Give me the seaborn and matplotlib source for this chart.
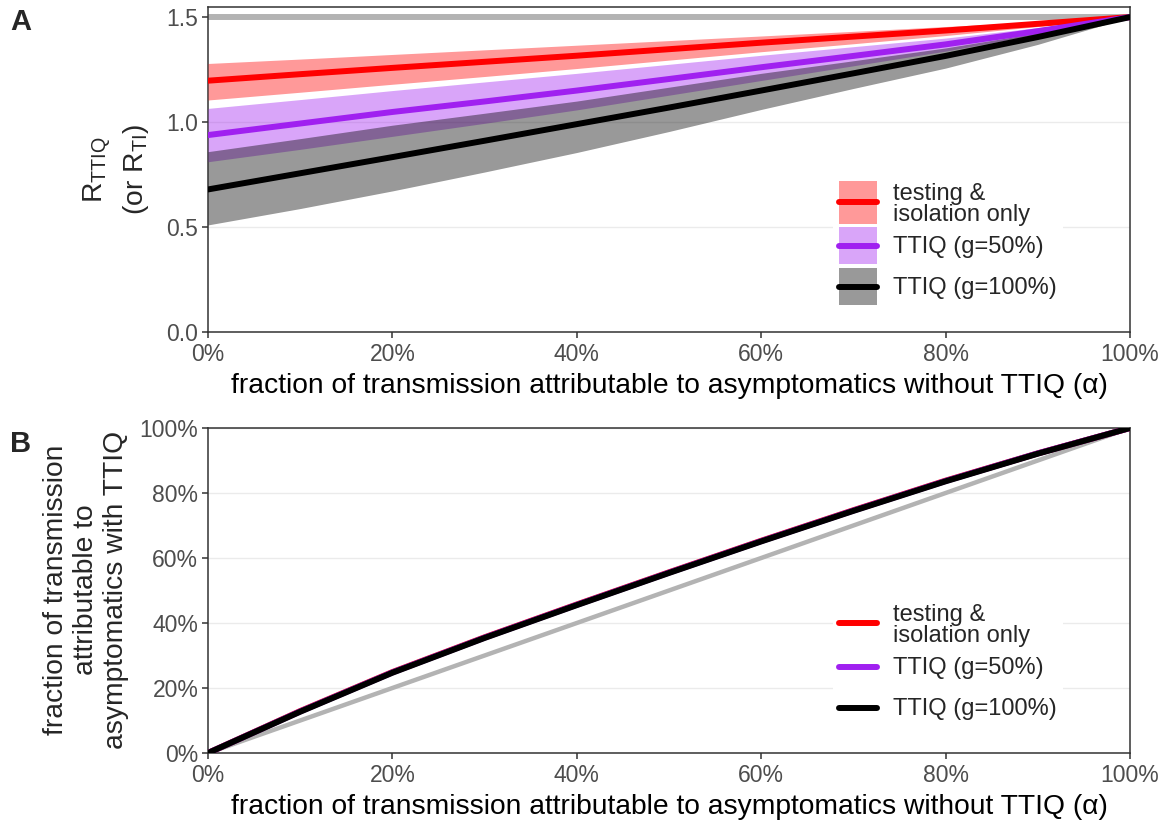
import numpy as np
import pandas as pd
import matplotlib
matplotlib.use("Agg")
import matplotlib.pyplot as plt
import seaborn as sns
from matplotlib.patches import Patch, Rectangle
from matplotlib.lines import Line2D
from matplotlib.legend_handler import HandlerPatch, HandlerLine2D
from matplotlib.transforms import ScaledTranslation
from matplotlib.ticker import PercentFormatter, FixedLocator

# ---------------- data ----------------
alpha_a = [0.0, 0.1, 0.2, 0.3, 0.4, 0.5, 0.6, 0.7, 0.8, 0.9, 1.0]
# panel A: R under each strategy, with uncertainty bands
r_ti_mid = [1.197, 1.228, 1.258, 1.287, 1.316, 1.347, 1.378, 1.407, 1.436, 1.468, 1.5]
r_ti_lo = [1.105, 1.142, 1.180, 1.217, 1.255, 1.295, 1.335, 1.373, 1.412, 1.455, 1.5]
r_ti_hi = [1.279, 1.300, 1.322, 1.344, 1.366, 1.388, 1.410, 1.432, 1.455, 1.477, 1.5]
r_g50_mid = [0.938, 0.993, 1.048, 1.098, 1.150, 1.205, 1.261, 1.315, 1.370, 1.433, 1.5]
r_g50_lo = [0.811, 0.870, 0.932, 0.994, 1.058, 1.128, 1.198, 1.268, 1.338, 1.418, 1.5]
r_g50_hi = [1.065, 1.107, 1.150, 1.191, 1.232, 1.275, 1.318, 1.359, 1.400, 1.450, 1.5]
r_g100_mid = [0.679, 0.756, 0.833, 0.911, 0.990, 1.069, 1.150, 1.232, 1.315, 1.405, 1.5]
r_g100_lo = [0.510, 0.588, 0.672, 0.762, 0.855, 0.955, 1.060, 1.160, 1.257, 1.370, 1.5]
r_g100_hi = [0.859, 0.921, 0.985, 1.042, 1.100, 1.166, 1.232, 1.292, 1.353, 1.425, 1.5]
r_baseline = [1.5] * 11

# panel B: fraction attributable to asymptomatics with TTIQ
alpha_b = [0.0, 0.1, 0.2, 0.3, 0.4, 0.5, 0.6, 0.7, 0.8, 0.9, 1.0]
frac_ti = [0.0, 0.129, 0.249, 0.356, 0.457, 0.556, 0.653, 0.747, 0.838, 0.922, 1.0]
frac_g50 = [0.0, 0.128, 0.248, 0.355, 0.456, 0.555, 0.652, 0.746, 0.837, 0.922, 1.0]
frac_g100 = [0.0, 0.127, 0.247, 0.354, 0.455, 0.554, 0.651, 0.745, 0.836, 0.921, 1.0]
frac_base = [0.0, 0.1, 0.2, 0.3, 0.4, 0.5, 0.6, 0.7, 0.8, 0.9, 1.0]

labels = ["testing &\nisolation only", "TTIQ (g=50%)", "TTIQ (g=100%)"]
x_ticks = [0.0, 0.2, 0.4, 0.6, 0.8, 1.0]
ya_ticks = [0.0, 0.5, 1.0, 1.5]
ya_ticklabels = ["0.0", "0.5", "1.0", "1.5"]
yb_ticks = [0.0, 0.2, 0.4, 0.6, 0.8, 1.0]
xlabel = "fraction of transmission attributable to asymptomatics without TTIQ (\u03b1)"

# ---------------- style ----------------
sns.set_theme(style="white")
plt.rcParams["font.family"] = ["Liberation Sans", "DejaVu Sans"]
plt.rcParams["mathtext.fontset"] = "custom"
plt.rcParams["mathtext.rm"] = "Liberation Sans"
plt.rcParams["mathtext.it"] = "Liberation Sans:italic"

RED = "#FF0000"
PURPLE = "#A020F0"
BLACK = "#000000"
GREY = "#B3B3B3"
colors = [RED, PURPLE, BLACK]
TICK_FS = 16.5
TITLE_FS = 20.3
LEG_FS = 17
LW = 4.3

W, H = 1167, 826
fig = plt.figure(figsize=(W / 100, H / 100), dpi=100)
ax_a = fig.add_axes([208 / W, 1 - 332 / H, 922 / W, 325 / H])
ax_b = fig.add_axes([208 / W, 1 - 753 / H, 922 / W, 325 / H])

def style_axes(ax):
    for s in ax.spines.values():
        s.set_color("#333333")
        s.set_linewidth(1.1)
        s.set_visible(True)
    ax.tick_params(axis="both", which="major", direction="out", length=4, width=1.1,
                   color="#333333", labelcolor="#4D4D4D", labelsize=TICK_FS,
                   left=True, bottom=True, pad=3)
    ax.tick_params(axis="x", pad=4)
    ax.grid(False)
    ax.yaxis.grid(True, color="#EBEBEB", linewidth=1.0)
    ax.set_axisbelow(True)
    ax.set_xlim(0, 1)
    ax.xaxis.set_major_locator(FixedLocator(x_ticks))
    ax.xaxis.set_major_formatter(PercentFormatter(1.0, decimals=0))
    ax.set_xlabel(xlabel, fontsize=TITLE_FS, color="black", labelpad=5)

def tall_patch(legend, orig_handle, xdescent, ydescent, width, height, fontsize):
    extra = 0.08 * height
    return Rectangle((-xdescent, -ydescent - extra), width, height + 2 * extra)

class CenterLine(HandlerLine2D):
    """Legend line drawn through the middle of the key box."""
    def create_artists(self, legend, orig_handle, xdescent, ydescent, width, height,
                       fontsize, trans):
        y = height / 2 - ydescent
        line = Line2D([-xdescent, -xdescent + width], [y, y])
        self.update_prop(line, orig_handle, legend)
        line.set_transform(trans)
        return [line]

LEG_KW = dict(loc="upper left", bbox_transform=fig.transFigure, fontsize=LEG_FS,
              frameon=True, facecolor="white", edgecolor="none", framealpha=1,
              handlelength=1.6, handleheight=2.03, handletextpad=0.7,
              labelspacing=0.18, borderpad=0.25, borderaxespad=0)

def finish_legend(leg):
    leg.get_frame().set_linewidth(0)
    for t in leg.get_texts():
        t.set_linespacing(0.95)
    t0 = leg.get_texts()[0]
    t0.set_transform(t0.get_transform() + ScaledTranslation(0, -3 / 100, fig.dpi_scale_trans))

# ---------------- panel A ----------------
df_a = pd.DataFrame({"alpha": alpha_a, "base": r_baseline})
sns.lineplot(data=df_a, x="alpha", y="base", ax=ax_a, color=GREY, linewidth=4.3, zorder=2)
bands = [(r_ti_lo, r_ti_hi), (r_g50_lo, r_g50_hi), (r_g100_lo, r_g100_hi)]
for (lo, hi), c in zip(bands, colors):
    ax_a.fill_between(alpha_a, lo, hi, color=c, alpha=0.4, linewidth=0, zorder=3)
for mid, c in zip([r_ti_mid, r_g50_mid, r_g100_mid], colors):
    sns.lineplot(x=alpha_a, y=mid, ax=ax_a, color=c, linewidth=LW, zorder=4)
style_axes(ax_a)
ax_a.set_ylim(0, 1.548)
ax_a.yaxis.set_major_locator(FixedLocator(ya_ticks))
ax_a.set_yticklabels(ya_ticklabels)
ax_a.set_ylabel("")

patches = [Patch(facecolor=c, alpha=0.4, edgecolor="none") for c in colors]
handles_a = [(p, Line2D([], [], color=c, linewidth=LW)) for p, c in zip(patches, colors)]
leg_a = ax_a.legend(handles_a, labels, bbox_to_anchor=(833 / W, 1 - 174 / H),
                    handler_map={patches[0]: HandlerPatch(patch_func=tall_patch),
                                 Line2D: CenterLine()}, **LEG_KW)
finish_legend(leg_a)

# ---------------- panel B ----------------
df_b = pd.DataFrame({"alpha": alpha_b, "base": frac_base})
sns.lineplot(data=df_b, x="alpha", y="base", ax=ax_b, color=GREY, linewidth=3.2, zorder=2)
for vals, c in zip([frac_ti, frac_g50, frac_g100], colors):
    sns.lineplot(x=alpha_b, y=vals, ax=ax_b, color=c, linewidth=LW, zorder=4)
style_axes(ax_b)
ax_b.set_ylim(0, 1)
ax_b.yaxis.set_major_locator(FixedLocator(yb_ticks))
ax_b.yaxis.set_major_formatter(PercentFormatter(1.0, decimals=0))
ax_b.set_ylabel("")

handles_b = [Line2D([], [], color=c, linewidth=LW) for c in colors]
leg_b = ax_b.legend(handles_b, labels, bbox_to_anchor=(833 / W, 1 - 595 / H),
                    handler_map={Line2D: CenterLine()}, **LEG_KW)
finish_legend(leg_b)

# ---------------- y titles and panel tags ----------------
fig.text(116 / W, 1 - 170 / H, "R$_{\\mathregular{TTIQ}}$\n(or R$_{\\mathregular{TI}}$)",
         rotation=90, ha="center", va="center", multialignment="center",
         fontsize=TITLE_FS, linespacing=1.4)
fig.text(86 / W, 1 - 590 / H,
         "fraction of transmission\nattributable to\nasymptomatics with TTIQ",
         rotation=90, ha="center", va="center", multialignment="center",
         fontsize=TITLE_FS, linespacing=1.18)
fig.text(10 / W, 1 - 8 / H, "A", fontsize=21, fontweight="bold", ha="left", va="top")
fig.text(10 / W, 1 - 430 / H, "B", fontsize=21, fontweight="bold", ha="left", va="top")

fig.savefig("out.png", dpi=100)
